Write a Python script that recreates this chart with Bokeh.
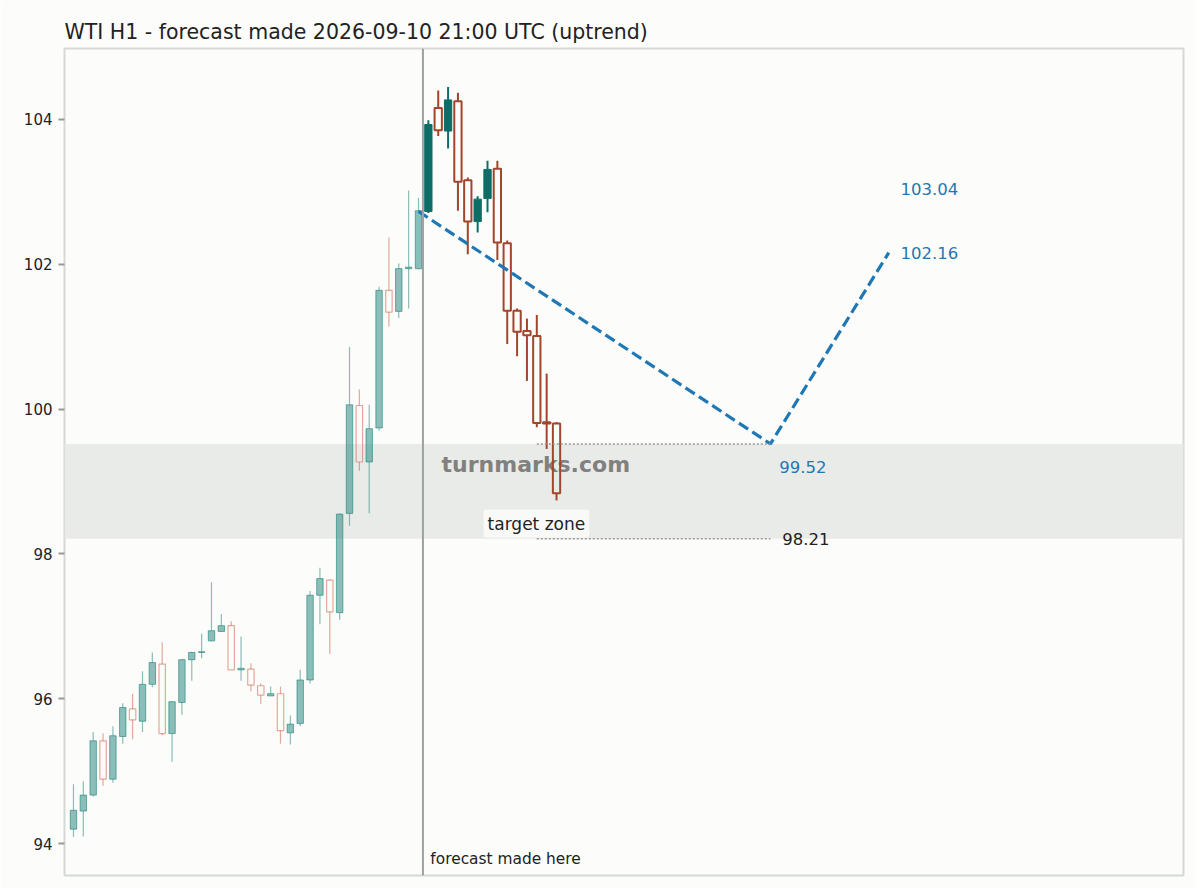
from bokeh.plotting import figure
from bokeh.models import Span, BoxAnnotation, Label, Range1d
from bokeh.embed import file_html
from bokeh.resources import INLINE
import numpy as np

# historical candles (before the forecast)
hist_open = [94.20, 94.45, 94.67, 95.42, 94.89, 95.48, 95.86, 95.69, 96.20, 96.48,
             95.52, 95.95, 96.54, 96.64, 96.80, 96.93, 97.01, 96.40, 96.41, 96.18,
             96.04, 96.07, 95.53, 95.66, 96.26, 97.43, 97.64, 97.19, 98.56, 100.05,
             99.27, 99.74, 101.64, 101.35, 101.94, 101.94]
hist_high = [94.82, 94.86, 95.54, 95.52, 95.62, 95.94, 96.07, 96.38, 96.64, 96.78,
             95.97, 96.55, 96.65, 96.90, 97.61, 97.17, 97.07, 96.86, 96.49, 96.21,
             96.17, 96.17, 95.77, 96.40, 97.49, 97.81, 97.65, 98.56, 100.86, 100.27,
             100.06, 101.69, 102.37, 102.01, 103.02, 102.92]
hist_low = [94.09, 94.10, 94.65, 94.80, 94.84, 95.38, 95.44, 95.54, 96.16, 95.50,
            95.13, 95.78, 96.25, 96.56, 96.79, 96.93, 96.40, 96.25, 96.10, 95.93,
            96.04, 95.38, 95.37, 95.62, 96.21, 97.03, 96.62, 97.09, 98.39, 99.15,
            98.56, 99.70, 101.14, 101.26, 101.39, 101.93]
hist_close = [94.46, 94.67, 95.42, 94.89, 95.49, 95.88, 95.71, 96.20, 96.50, 95.52,
              95.96, 96.54, 96.64, 96.65, 96.94, 97.01, 96.40, 96.42, 96.19, 96.05,
              96.07, 95.56, 95.65, 96.26, 97.43, 97.66, 97.20, 98.55, 100.06, 99.27,
              99.73, 101.64, 101.34, 101.94, 101.96, 102.74]

# candles that came after the forecast
post_open = [102.73, 104.16, 103.84, 104.25, 103.16, 102.59, 102.91, 103.32, 102.29,
             101.36, 101.08, 101.01, 99.82, 99.80]
post_high = [103.99, 104.40, 104.45, 104.37, 103.20, 102.94, 103.43, 103.43, 102.33,
             101.39, 101.25, 101.30, 100.49, 99.82]
post_low = [102.71, 103.77, 103.60, 102.74, 102.14, 102.44, 102.72, 102.06, 100.90,
            100.73, 100.39, 99.75, 99.45, 98.74]
post_close = [103.93, 103.85, 104.27, 103.14, 102.59, 102.90, 103.31, 102.30, 101.36,
              101.07, 101.02, 99.81, 99.80, 98.84]

# forecast path and target zone
forecast_x = [35, 70.7, 82.7]
forecast_y = [102.73, 99.52, 102.16]
forecast_made_at = 35.45
target_high = 99.52
target_low = 98.21
upper_label = 103.04

BG = "#fcfcfa"
FONT = "DejaVu Sans"

p = figure(width=1196, height=888, output_backend="svg", toolbar_location=None,
           title="WTI H1 - forecast made 2026-09-10 21:00 UTC (uptrend)",
           x_range=Range1d(-0.91, 112.6), y_range=Range1d(93.56, 104.98),
           min_border_left=64, min_border_right=13, min_border_top=48, min_border_bottom=13)

p.background_fill_color = BG
p.border_fill_color = BG
p.outline_line_color = "#d5d9d6"
p.outline_line_width = 2
p.grid.visible = False
p.xaxis.visible = False

p.title.text_font = FONT
p.title.text_font_size = "20.5px"
p.title.text_font_style = "normal"
p.title.text_color = "#222222"

p.yaxis.ticker = [94, 96, 98, 100, 102, 104]
p.yaxis.axis_line_color = None
p.yaxis.major_tick_in = 0
p.yaxis.major_tick_out = 6
p.yaxis.major_tick_line_color = "#999999"
p.yaxis.major_tick_line_width = 2
p.yaxis.minor_tick_line_color = None
p.yaxis.major_label_text_font = FONT
p.yaxis.major_label_text_font_size = "15px"
p.yaxis.major_label_text_color = "#222222"
p.yaxis.major_label_standoff = 6

# shaded target zone
band = BoxAnnotation(top=target_high, bottom=target_low, fill_color="#e9ebe8",
                     fill_alpha=1.0, line_color=None, level="underlay")
p.add_layout(band)

# watermark
p.add_layout(Label(x=46.9, y=99.235, text="turnmarks.com", text_align="center",
                   text_baseline="middle", text_font=FONT, text_font_size="22px",
                   text_font_style="bold", text_color="#808080", level="underlay"))

p.add_layout(Span(location=forecast_made_at, dimension="height",
                  line_color="#9ca29f", line_width=2))


def candles(x, o, h, l, c, up_color, down_color, alpha, width, lw):
    x = np.asarray(x, dtype=float)
    o, h, l, c = (np.asarray(a) for a in (o, h, l, c))
    top = np.maximum(o, c)
    bot = np.minimum(o, c)
    up = c >= o
    dn = ~up
    # wicks, drawn outside the body only
    p.segment(x[up], h[up], x[up], top[up], line_color=up_color, line_width=lw, line_alpha=alpha)
    p.segment(x[up], bot[up], x[up], l[up], line_color=up_color, line_width=lw, line_alpha=alpha)
    p.segment(x[dn], h[dn], x[dn], top[dn], line_color=down_color, line_width=lw, line_alpha=alpha)
    p.segment(x[dn], bot[dn], x[dn], l[dn], line_color=down_color, line_width=lw, line_alpha=alpha)
    p.vbar(x=x[up], top=top[up], bottom=bot[up], width=width, fill_color=up_color,
           fill_alpha=alpha, line_color=up_color,
           line_alpha=min(1, alpha + 0.1), line_width=1)
    p.vbar(x=x[dn], top=top[dn], bottom=bot[dn], width=width, fill_color=None,
           line_color=down_color, line_alpha=alpha, line_width=lw)


candles(np.arange(len(hist_open)), hist_open, hist_high, hist_low, hist_close,
        "#1b8077", "#c8583a", 0.5, 0.65, 1.2)
candles(np.arange(36, 36 + len(post_open)), post_open, post_high, post_low, post_close,
        "#0e6e67", "#a2452b", 1.0, 0.74, 2)

# forecast path
p.line(forecast_x, forecast_y, line_color="#1f77b4", line_width=3.2, line_dash="11 5")

# target levels
p.line([47, forecast_x[1]], [target_high, target_high], line_color="#999999",
       line_width=1.5, line_dash="2 2")
p.line([47, forecast_x[1]], [target_low, target_low], line_color="#999999",
       line_width=1.5, line_dash="2 2")

blue = "#1f77b4"
p.add_layout(Label(x=83.9, y=upper_label, text=f"{upper_label:.2f}", text_baseline="middle",
                   text_font=FONT, text_font_size="16.5px", text_color=blue))
p.add_layout(Label(x=83.9, y=forecast_y[2], text=f"{forecast_y[2]:.2f}", text_baseline="middle",
                   text_font=FONT, text_font_size="16.5px", text_color=blue))
p.add_layout(Label(x=71.6, y=target_high, y_offset=-23, text=f"{target_high:.2f}",
                   text_baseline="middle", text_font=FONT, text_font_size="16.5px", text_color=blue))
p.add_layout(Label(x=71.9, y=target_low, text=f"{target_low:.2f}", text_baseline="middle",
                   text_font=FONT, text_font_size="16.5px", text_color="#222222"))

p.add_layout(Label(x=41.6, y=98.42, text="target zone", text_baseline="middle",
                   text_font=FONT, text_font_size="17px", text_color="#222222",
                   background_fill_color="#ffffff", background_fill_alpha=0.7,
                   padding=4, border_radius=3))

p.add_layout(Label(x=36.2, y=93.79, text="forecast made here", text_baseline="middle",
                   text_font=FONT, text_font_size="15.4px", text_color="#222222"))

open("out.html", "w").write(file_html(p, INLINE))
